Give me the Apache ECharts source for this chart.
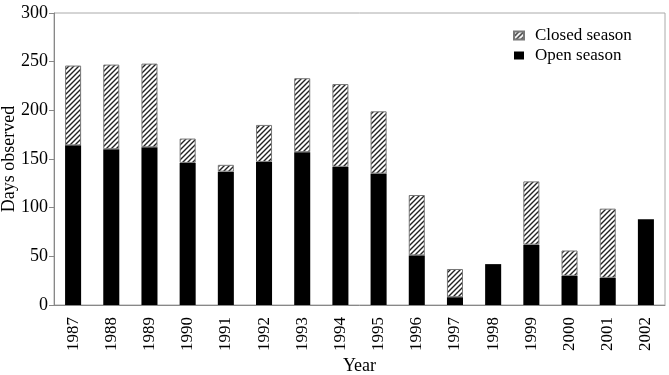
<!DOCTYPE html>
<html>
<head>
<meta charset="utf-8">
<script src="https://cdn.jsdelivr.net/npm/echarts@6/dist/echarts.min.js"></script>
<style>
  html, body { margin: 0; padding: 0; background: #fff; }
  #chart { width: 669px; height: 375px; }
</style>
</head>
<body>
<div id="chart"></div>
<script>
var years = ['1987', '1988', '1989', '1990', '1991', '1992', '1993', '1994',
  '1995', '1996', '1997', '1998', '1999', '2000', '2001', '2002'];
var openSeason = [164, 160, 162, 146, 137, 147, 157, 142, 135, 51, 8, 42, 62, 30, 28, 88];
var closedSeason = [82, 87, 86, 25, 7, 38, 76, 85, 64, 62, 29, 0, 65, 26, 71, 0];

// diagonal hatch for the closed season
var hatch = document.createElement('canvas');
hatch.width = 5;
hatch.height = 5;
var ctx = hatch.getContext('2d');
ctx.fillStyle = '#fff';
ctx.fillRect(0, 0, 5, 5);
ctx.strokeStyle = '#222';
ctx.lineWidth = 1.4;
ctx.beginPath();
ctx.moveTo(-1, 6); ctx.lineTo(6, -1);
ctx.moveTo(-1, 1); ctx.lineTo(1, -1);
ctx.moveTo(4, 6); ctx.lineTo(6, 4);
ctx.stroke();

var myChart = echarts.init(document.getElementById('chart'));
var font = 'Liberation Serif, Times New Roman, serif';

var option = {
  animation: false,
  textStyle: { fontFamily: font },
  grid: {
    left: 54, right: 4, top: 13, bottom: 70,
    outerBoundsMode: 'none',
    containLabel: false,
    show: true, borderColor: '#aaa', borderWidth: 1
  },
  legend: {
    data: ['Closed season', 'Open season'],
    orient: 'vertical',
    left: 508, top: 22,
    icon: 'rect',
    itemWidth: 10, itemHeight: 8, itemGap: 3,
    textStyle: { fontFamily: font, fontSize: 17, color: '#000', padding: [0, 0, 0, 6] }
  },
  xAxis: {
    type: 'category',
    data: years,
    name: 'Year',
    nameLocation: 'middle',
    nameGap: 52,
    nameMoveOverlap: false,
    nameTextStyle: { fontFamily: font, fontSize: 18, color: '#000' },
    axisLine: { lineStyle: { color: '#888' } },
    axisTick: { alignWithLabel: false, length: 5, lineStyle: { color: '#888' } },
    axisLabel: { rotate: 90, fontSize: 17, color: '#000', margin: 12, fontFamily: font }
  },
  yAxis: {
    type: 'value',
    min: 0, max: 300, interval: 50,
    name: 'Days observed',
    nameLocation: 'middle',
    nameGap: 36,
    nameMoveOverlap: false,
    nameTextStyle: { fontFamily: font, fontSize: 18, color: '#000' },
    splitLine: { show: false },
    axisLine: { show: true, lineStyle: { color: '#888' } },
    axisTick: { show: true, length: 5, lineStyle: { color: '#888' } },
    axisLabel: { fontSize: 18, color: '#000', margin: 6, fontFamily: font }
  },
  series: [
    {
      name: 'Open season',
      type: 'bar',
      stack: 'days',
      barWidth: '42%',
      data: openSeason.map(function (v) { return v || null; }),
      itemStyle: { color: '#000' }
    },
    {
      name: 'Closed season',
      type: 'bar',
      stack: 'days',
      data: closedSeason.map(function (v) { return v || null; }),
      itemStyle: {
        color: { image: hatch, repeat: 'repeat' },
        borderColor: '#777',
        borderWidth: 1
      }
    }
  ]
};

myChart.setOption(option);
window.addEventListener('resize', myChart.resize);
</script>
</body>
</html>
